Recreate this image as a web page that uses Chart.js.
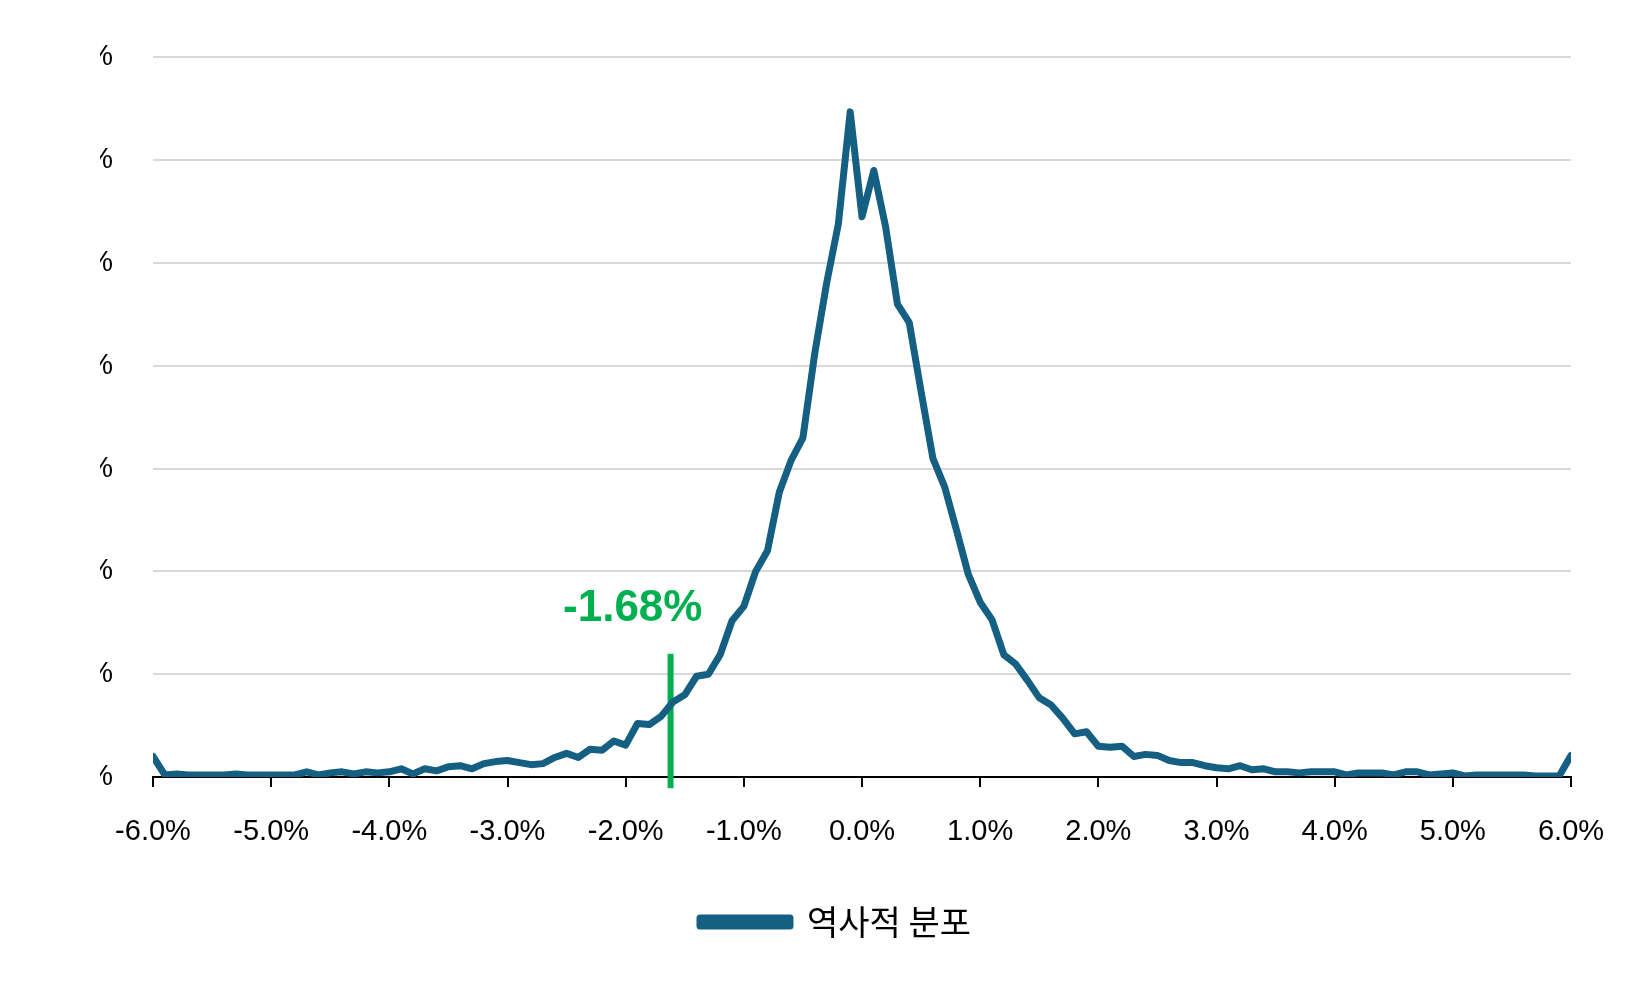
<!DOCTYPE html>
<html>
<head>
<meta charset="utf-8">
<script src="https://cdn.jsdelivr.net/npm/chart.js@4.4.1/dist/chart.umd.min.js"></script>
<style>
  html, body { margin: 0; padding: 0; background: #fff; }
  #wrap { width: 1650px; height: 990px; }
</style>
</head>
<body>
<div id="wrap"><canvas id="c" width="1650" height="990"></canvas></div>
<script>
// returns bucket from -6.0% to 6.0% in 0.1% steps
const X_START = -6.0;
const X_STEP = 0.1;
const freq = [
  0.20, 0.02, 0.03, 0.02, 0.02, 0.02, 0.02, 0.03, 0.02, 0.02,
  0.02, 0.02, 0.02, 0.05, 0.02, 0.04, 0.05, 0.03, 0.05, 0.04,
  0.05, 0.08, 0.03, 0.08, 0.06, 0.10, 0.11, 0.08, 0.13, 0.15,
  0.16, 0.14, 0.12, 0.13, 0.19, 0.23, 0.19, 0.27, 0.26, 0.35,
  0.31, 0.52, 0.51, 0.59, 0.73, 0.80, 0.98, 1.00, 1.19, 1.52,
  1.66, 2.00, 2.20, 2.77, 3.08, 3.30, 4.12, 4.80, 5.38, 6.47,
  5.45, 5.90, 5.35, 4.60, 4.42, 3.75, 3.10, 2.82, 2.40, 1.97,
  1.70, 1.53, 1.19, 1.10, 0.94, 0.77, 0.70, 0.57, 0.42, 0.44,
  0.30, 0.29, 0.30, 0.20, 0.22, 0.21, 0.16, 0.14, 0.14, 0.11,
  0.09, 0.08, 0.11, 0.07, 0.08, 0.05, 0.05, 0.04, 0.05, 0.05,
  0.05, 0.02, 0.04, 0.04, 0.04, 0.02, 0.05, 0.05, 0.02, 0.03,
  0.04, 0.01, 0.02, 0.02, 0.02, 0.02, 0.02, 0.01, 0.01, 0.01,
  0.21
];
const markerX = -1.62;
const markerLabel = "-1.68%";
const seriesName = "역사적 분포";

const points = freq.map((v, i) => ({ x: +(X_START + i * X_STEP).toFixed(1), y: v }));

const labelPlugin = {
  id: "markerLabel",
  afterDatasetsDraw(chart) {
    const { ctx, scales } = chart;
    ctx.save();
    ctx.fillStyle = "#00b050";
    ctx.font = "bold 44px 'Liberation Sans', Arial, sans-serif";
    ctx.textAlign = "center";
    ctx.textBaseline = "middle";
    ctx.fillText(markerLabel, scales.x.getPixelForValue(-1.94), scales.y.getPixelForValue(1.64));
    ctx.restore();
  }
};

new Chart(document.getElementById("c"), {
  type: "line",
  data: {
    datasets: [
      {
        label: seriesName,
        data: points,
        borderColor: "#156082",
        backgroundColor: "#156082",
        borderWidth: 7,
        pointRadius: 0,
        tension: 0,
        borderJoinStyle: "round",
        borderCapStyle: "round"
      },
      {
        label: "marker",
        data: [{ x: markerX, y: 1.2 }, { x: markerX, y: -0.11 }],
        borderColor: "#00b050",
        borderWidth: 6,
        pointRadius: 0,
        clip: false
      }
    ]
  },
  options: {
    responsive: false,
    animation: false,
    layout: { padding: { top: 32, right: 79, bottom: 41, left: 100 } },
    scales: {
      x: {
        type: "linear",
        min: -6,
        max: 6,
        afterFit: (s) => { s.height = 108; },
        ticks: {
          stepSize: 1,
          color: "#000",
          padding: 28,
          font: { size: 29, family: "'Liberation Sans', Arial, sans-serif" },
          callback: (v) => v.toFixed(1) + "%"
        },
        grid: { drawOnChartArea: false, color: "#000", tickLength: 10, lineWidth: 2 },
        border: { color: "#000", width: 2 }
      },
      y: {
        min: 0,
        max: 7,
        afterFit: (s) => { s.width = 53; },
        ticks: {
          stepSize: 1,
          color: "#000",
          padding: 40,
          font: { size: 29, family: "'Liberation Sans', Arial, sans-serif" },
          callback: (v) => v.toFixed(1) + "%"
        },
        grid: { color: "#d9d9d9", lineWidth: 2, tickLength: 0 },
        border: { display: false }
      }
    },
    plugins: {
      legend: {
        position: "bottom",
        labels: {
          filter: (item) => item.datasetIndex === 0,
          color: "#000",
          boxWidth: 90,
          boxHeight: 8,
          padding: 20,
          font: { size: 34, family: "'Noto Sans CJK KR', sans-serif" }
        }
      },
      tooltip: { enabled: false }
    }
  },
  plugins: [labelPlugin]
});
</script>
</body>
</html>
